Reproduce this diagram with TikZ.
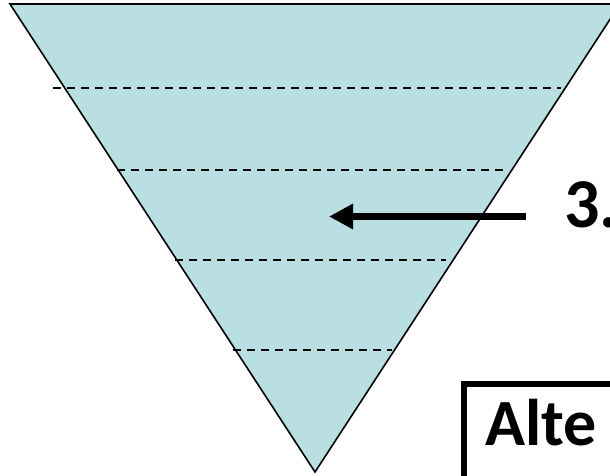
\documentclass[tikz,border=0pt]{standalone}
\usepackage{fontspec}
\setmainfont{Carlito}
\usetikzlibrary{arrows.meta}
\definecolor{funnel}{RGB}{185,223,227}
\tikzset{
  funnelshape/.style={fill=funnel, draw=black, line width=1.6pt, line join=miter},
  layerline/.style={draw=black, line width=1.5pt, dash pattern=on 8pt off 6pt},
  bigarrow/.style={draw=black, line width=7pt, -{Triangle[length=24pt,width=24pt]}},
  bigtext/.style={font=\bfseries\fontsize{66}{66}\selectfont, inner sep=0pt, anchor=base west},
  framebox/.style={draw=black, line width=6pt}
}
\begin{document}
\begin{tikzpicture}[x=1pt,y=-1pt]
\useasboundingbox (0,0) rectangle (610,476);
\coordinate (tl) at (10,4);
\coordinate (tr) at (620,4);
\coordinate (ap) at (315,472);
\draw[funnelshape] (tl) -- (tr) -- (ap) -- cycle;
\coordinate (d1l) at (53,88);  \coordinate (d1r) at (561,88);
\coordinate (d2l) at (117,170); \coordinate (d2r) at (505,170);
\coordinate (d3l) at (175,260); \coordinate (d3r) at (446,260);
\coordinate (d4l) at (233,350); \coordinate (d4r) at (392,350);
\draw[layerline] (d1l) -- (d1r);
\draw[layerline] (d2l) -- (d2r);
\draw[layerline] (d3l) -- (d3r);
\draw[layerline] (d4l) -- (d4r);
\node[bigtext, font=\bfseries\fontsize{70}{70}\selectfont] (three) at (564,227) {3.};
\coordinate (astart) at (526,216.5);
\coordinate (aend) at (329,216.5);
\draw[bigarrow] (astart) -- (aend);
\draw[framebox] (464,384) rectangle (720,560);
\node[bigtext] (alte) at (485,445) {Alte};
\end{tikzpicture}
\end{document}
